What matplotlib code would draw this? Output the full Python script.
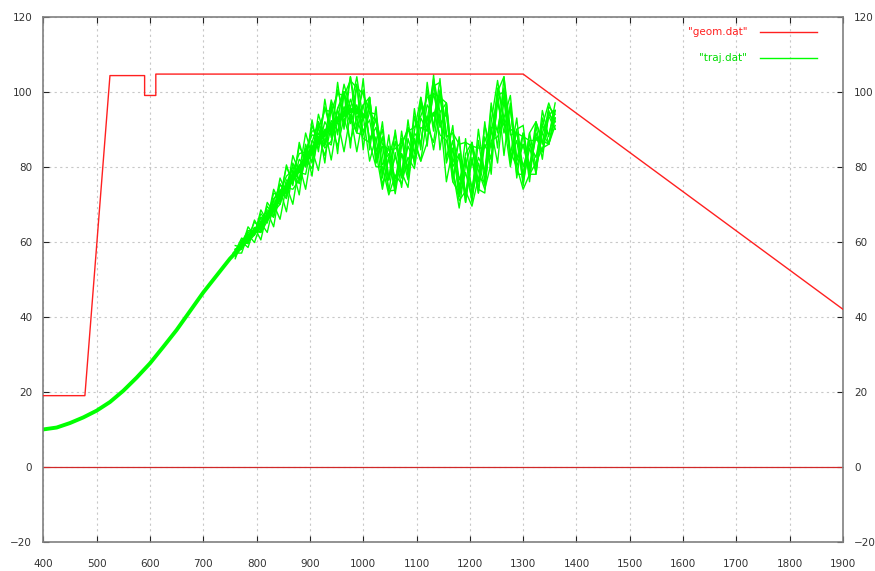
import matplotlib
matplotlib.use('Agg')
import matplotlib.pyplot as plt
import numpy as np

# geometry (geom.dat)
geom_x = [400, 478, 525, 590, 590, 611, 611, 1300, 1900]
geom_y = [19, 19, 104.3, 104.3, 99, 99, 104.7, 104.7, 42]

# trajectory bundle (traj.dat): common smooth start
start_x = [400, 425, 450, 475, 500, 525, 550, 575, 600, 625, 650, 675, 700, 725, 750, 760]
start_y = [10, 10.5, 11.7, 13.2, 15, 17.3, 20.3, 23.8, 27.6, 32, 36.5, 41.5, 46.5, 51, 55.5, 57]

# shared sample positions of the wiggly part and the bundle centre
wig_x = list(range(760, 1361, 12))
centre_y = [57, 59, 61, 62.8, 64.5, 66.5, 69, 72, 74.5, 77,
            79.5, 82, 84.5, 87, 89, 90.8, 92.5, 94, 95, 95,
            93.5, 90.5, 87, 83, 80.5, 79.8, 80.5, 82.5, 85.5, 89.5,
            93.5, 96.5, 96.5, 91, 85, 80, 77.5, 77.5, 79, 82,
            87, 93, 96, 92, 86, 83, 83, 85, 88, 91, 93]

# deviation of single trajectories from the centre
dev_a = [1, -1, 1.5, -1, 2, -1.5, 2, -2, 2, -1.5,
         2.5, -2, 2.5, -2, 3, -2, 2.5, -2.5, 3, -2,
         3, -3, 3.5, -2.5, 3, -3, 3, -2.5, 3.5, -3,
         3, -3, 3.5, -3, 4, -3.5, 4, -3, 3.5, -3,
         3.5, -3, 3, -3.5, 3, -3, 3, -2.5, 3, -2.5, 2]
dev_b = [-1, 1, -1.5, 1, -2, 1.5, -2.5, 1.5, -2.5, 2,
         -3, 1.5, -3, 2, -3.5, 1.5, -3, 2, -3.5, 1.5,
         -4, 2, -4, 2.5, -4, 3, -3.5, 3, -4, 3.5,
         -4, 3, -5, 3, -5, 3.5, -5, 4, -5, 4,
         -5, 4, -5, 3.5, -4.5, 3, -4, 3, -4, 2.5, -3]
dev_c = [0.5, 2, -1, 3, -1.5, 4, -1, 5, -1.5, 6,
         -1, 7, -1.5, 7, -1, 7, 0, 8, 0.5, 9,
         -1, 8, -3, 7, -4, 7, -3, 8, -2, 8,
         -1, 7, -2, 6, -4, 7, -5, 8, -3, 9,
         -2, 8, -3, 7, -4, 6, -3, 7, -2, 5, 1]
dev_d = [-1.5, 1, -2.5, 1, -4, 1.5, -5, 2, -6.5, 2,
         -7, 3, -7, 4, -8, 5, -9, 6, -10, 7,
         -9, 8, -6, 9, -4, 10, -3, 10, -5, 9,
         -8, 8, -12, 6, -9, 8, -7, 9, -6, 10,
         -9, 7, -13, 5, -9, 6, -7, 6, -6, 4, -3]
dev_e = [2, -0.5, 3, -1, 4, -1, 5, -1.5, 6, -2,
         7, -2, 8, -3, 9, -3, 10, -4, 9, -5,
         10, -6, 9, -6, 8, -5, 9, -4, 10, -5,
         9, -6, 7, -9, 6, -6, 10, -5, 11, -4,
         10, -8, 8, -9, 7, -6, 6, -5, 7, -3, 4]
dev_f = [0, -2, 1, -3, 0.5, -4, 1, -6, 0.5, -7,
         1, -8, 0, -8, 1, -9, 0, -10, -1, -11,
         0, -9, 1, -8, 2, -7, 3, -6, 2, -8,
         0, -12, -2, -15, 0, -8, 1, -6, 2, -7,
         3, -12, 2, -10, 1, -7, 2, -6, 1, -5, 0]
dev_g = [-0.5, 1.5, 0, 2.5, -1, 3, -2, 3.5, -2, 4,
         -3, 4, -3.5, 5, -3, 6, -4, 6, -3, 7,
         -5, 6, -6, 5, -7, 4, -6, 5, -4, 7,
         -3, 6, -6, 4, -8, 3, -7, 5, -6, 6,
         -5, 5, -7, 4, -6, 3, -5, 4, -4, 3, -1]
dev_h = [1, 0, 2, -0.5, 3, -1, 4, 0, 5.5, -1,
         6, 0, 6.5, -1, 7, -2, 8, 0, 9, -1,
         7, -4, 6, -5, 5, -6, 7, -5, 8, -4,
         7, -7, 4, -10, 2, -8, 5, -7, 8, -6,
         9, -4, 5, -11, 4, -8, 4, -7, 5, -5, 2]
dev_i = [0, 1, 2, 0, -2, -1, 2, 3, 0, -3,
         -3, 2, 4, 1, -4, -4, 3, 5, 0, -6,
         -5, 4, 7, 0, -7, -6, 5, 8, 1, -8,
         -7, 5, 6, -2, -9, -7, 6, 9, 0, -8,
         -6, 7, 8, -2, -8, -5, 6, 7, -1, -5, 0]
dev_j = [1, 0, -1, -1, 1, 2, -1, -2, 1, 3,
         -1, -4, 2, 5, -2, -5, 3, 6, -2, -6,
         3, 8, -3, -9, 2, 9, -2, -8, 4, 9,
         -3, -10, 2, 6, -6, -11, 3, 9, -5, -9,
         5, 10, -4, -12, 4, 8, -5, -7, 3, 6, -1]
dev_k = [-0.5, 0.5, -1, 1, -1.5, 1, -2, 1.5, -3, 1,
         -4, 0, -5, 1, -6, 0, -7, -1, -8, -2,
         -6, -4, -7, -3, -8, -2, -5, 0, -6, 1,
         -4, -2, -8, -4, -6, -9, -4, -8, -2, -6,
         0, -5, -3, -8, -6, -9, -5, -4, -3, -5, -2]
dev_l = [0.5, -0.5, 1, 0, 2, 0.5, 2.5, 1, 3, 2,
         4, 2, 5, 3, 6, 4, 7, 5, 8, 6,
         6, 4, 5, 3, 4, 5, 6, 7, 5, 4,
         5, 3, 2, -3, 4, 6, 9, 8, 6, 3,
         2, 6, 4, -2, 3, 5, 4, 2, 1, 3, 2]
deviations = [dev_a, dev_b, dev_c, dev_d, dev_e, dev_f,
              dev_g, dev_h, dev_i, dev_j, dev_k, dev_l]

x_ticks = list(range(400, 1901, 100))
y_ticks = list(range(-20, 121, 20))

RED = '#ff2020'
GREEN = '#00ff00'

fig = plt.figure(figsize=(8.75, 5.71), dpi=100)
ax = fig.add_axes([0.0495, 0.0508, 0.914, 0.92])

ax.set_xlim(400, 1900)
ax.set_ylim(-20, 120)
ax.set_xticks(x_ticks)
ax.set_yticks(y_ticks)
ax.grid(True, color='#c8c8c8', linestyle=(0, (2, 3)), linewidth=0.8)
ax.axhline(0, color='#d02828', linewidth=0.9, zorder=2)

ax.tick_params(direction='in', length=4, width=0.8, color='#222222',
               labelsize=7.5, labelcolor='#333333',
               top=True, right=True, labelright=True)
ax.tick_params(axis='x', pad=12)
ax.tick_params(axis='y', pad=8)
for s in ax.spines.values():
    s.set_color('#808080')
    s.set_linewidth(1.2)

ax.plot(geom_x, geom_y, color=RED, linewidth=1.0, zorder=3)

cx = np.array(wig_x)
cy = np.array(centre_y)
ax.plot(start_x, start_y, color=GREEN, linewidth=2.8, zorder=2)
for dev in deviations:
    ax.plot(cx, cy + np.array(dev), color=GREEN, linewidth=1.0, zorder=2)
ax.plot(cx[:21], cy[:21], color=GREEN, linewidth=3.5, zorder=2)

# legend drawn gnuplot-style
ax.text(0.88, 0.970, '"geom.dat"', color=RED, fontsize=7.5, ha='right', va='center',
        transform=ax.transAxes)
ax.plot([0.896, 0.967], [0.970, 0.970], color=RED, linewidth=1.0, transform=ax.transAxes)
ax.text(0.88, 0.922, '"traj.dat"', color='#00dd00', fontsize=7.5, ha='right', va='center',
        transform=ax.transAxes)
ax.plot([0.896, 0.967], [0.922, 0.922], color=GREEN, linewidth=1.0, transform=ax.transAxes)

fig.savefig('out.png', dpi=100)
